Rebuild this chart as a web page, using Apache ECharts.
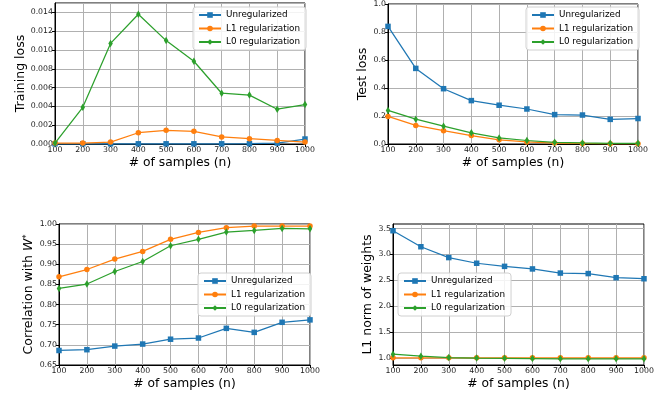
<!DOCTYPE html>
<html>
<head>
<meta charset="utf-8">
<script src="https://cdn.jsdelivr.net/npm/echarts@6/dist/echarts.min.js"></script>
<style>html,body{margin:0;padding:0;background:#fff}#c{width:666px;height:396px}</style>
</head>
<body>
<div id="c"></div>
<script>
const samples = [100, 200, 300, 400, 500, 600, 700, 800, 900, 1000];
const seriesNames = ['Unregularized', 'L1 regularization', 'L0 regularization'];

const trainUnreg = [0.00002, 0.00002, 0.00002, 0.00002, 0.00002, 0.00002, 0.00002, 0.00003, 0.0001, 0.00053];
const trainL1 = [0.0001, 0.0001, 0.0002, 0.0012, 0.00145, 0.00135, 0.00075, 0.00057, 0.00038, 0.0002];
const trainL0 = [0.0001, 0.0039, 0.0107, 0.0138, 0.0110, 0.0088, 0.0054, 0.0052, 0.0037, 0.0042];

const testUnreg = [0.84, 0.54, 0.395, 0.31, 0.277, 0.25, 0.21, 0.207, 0.176, 0.182];
const testL1 = [0.197, 0.133, 0.095, 0.06, 0.03, 0.015, 0.007, 0.004, 0.002, 0.002];
const testL0 = [0.24, 0.177, 0.127, 0.08, 0.043, 0.025, 0.012, 0.008, 0.005, 0.005];

const corrUnreg = [0.686, 0.688, 0.697, 0.702, 0.714, 0.717, 0.741, 0.731, 0.756, 0.762];
const corrL1 = [0.869, 0.887, 0.913, 0.932, 0.962, 0.979, 0.991, 0.995, 0.995, 0.995];
const corrL0 = [0.840, 0.851, 0.882, 0.907, 0.946, 0.962, 0.980, 0.984, 0.989, 0.988];

const normUnreg = [3.46, 3.15, 2.94, 2.83, 2.77, 2.72, 2.64, 2.63, 2.55, 2.53];
const normL1 = [1.0, 1.0, 1.0, 1.0, 1.0, 1.0, 1.0, 1.0, 1.0, 1.0];
const normL0 = [1.07, 1.03, 1.005, 0.995, 0.99, 0.985, 0.98, 0.98, 0.98, 0.98];

const normTicks = [1.0, 1.5, 2.0, 2.5, 3.0, 3.5];

const colors = ['#1f77b4', '#ff7f0e', '#2ca02c'];
const symbols = ['rect', 'circle', 'path://M0,-1L0.55,0L0,1L-0.55,0Z'];
const symbolSizes = [5.5, 5.5, [4.5, 7.5]];
const FONT = 'DejaVu Sans';

const grids = [
  {left: 55, top: 3, width: 250, height: 141},
  {left: 388, top: 3, width: 250, height: 141},
  {left: 59, top: 224, width: 251, height: 141},
  {left: 393, top: 224, width: 251, height: 141}
];

const yConf = [
  {name: 'Training loss', min: 0, max: 0.015, interval: 0.002, dec: 3, gap: 27},
  {name: 'Test loss', min: 0, max: 1.0, interval: 0.2, dec: 1, gap: 15},
  {name: 'Correlation with {w|W}{s|*}', min: 0.65, max: 1.0, interval: 0.05, dec: 2, gap: 22},
  {name: 'L1 norm of weights', min: 0.86, max: 3.59, interval: null, dec: 1, gap: 11, custom: normTicks}
];

const panelData = [
  [trainUnreg, trainL1, trainL0],
  [testUnreg, testL1, testL0],
  [corrUnreg, corrL1, corrL0],
  [normUnreg, normL1, normL0]
];

const legendPos = [
  {left: 193, top: 7},
  {left: 526, top: 7},
  {left: 198, top: 273},
  {left: 398, top: 273}
];

const option = {
  animation: false,
  backgroundColor: '#fff',
  textStyle: {fontFamily: FONT},
  grid: grids.map(g => Object.assign({show: true, borderColor: '#000', borderWidth: 1, backgroundColor: 'transparent'}, g)),
  xAxis: grids.map((g, i) => ({
    type: 'value', gridIndex: i, min: 100, max: 1000, interval: 100,
    name: '# of samples (n)', nameLocation: 'middle', nameGap: 13,
    nameTextStyle: {fontSize: 12.3, color: '#000', fontFamily: FONT},
    axisLine: {show: true, onZero: false, lineStyle: {color: '#000', width: 1}},
    axisTick: {show: true, length: 3, lineStyle: {color: '#000'}},
    axisLabel: {fontSize: 7.8, color: '#222', margin: 2, fontFamily: FONT, formatter: v => String(v)},
    splitLine: {show: true, lineStyle: {color: '#b0b0b0', width: 1}}
  })),
  yAxis: yConf.map((c, i) => {
    const ax = {
      type: 'value', gridIndex: i, min: c.min, max: c.max,
      name: c.name, nameLocation: 'middle', nameGap: c.gap, nameRotate: 90,
      nameTextStyle: {fontSize: 12.5, color: '#000', fontFamily: FONT,
        rich: {
          w: {fontSize: 12.5, fontStyle: 'italic', color: '#000', fontFamily: FONT},
          s: {fontSize: 8, color: '#000', fontFamily: FONT, verticalAlign: 'top', padding: [0, 0, 5, 0]}
        }},
      axisLine: {show: true, onZero: false, lineStyle: {color: '#000', width: 1}},
      axisTick: {show: true, length: 3, lineStyle: {color: '#000'}},
      axisLabel: {fontSize: 7.8, color: '#222', margin: 2, fontFamily: FONT,
        showMinLabel: true, showMaxLabel: i === 1 || i === 2,
        formatter: v => v.toFixed(c.dec)},
      splitLine: {show: true, lineStyle: {color: '#b0b0b0', width: 1}}
    };
    if (c.interval) ax.interval = c.interval;
    if (c.custom) {
      ax.axisLabel.customValues = c.custom;
      ax.axisLabel.showMinLabel = true;
      ax.axisLabel.showMaxLabel = true;
      ax.axisTick.customValues = c.custom;
    }
    return ax;
  }),
  legend: legendPos.map(p => ({
    left: p.left, top: p.top, orient: 'vertical',
    data: seriesNames,
    backgroundColor: 'rgba(255,255,255,0.85)', borderColor: '#d0d0d0', borderWidth: 1, borderRadius: 3,
    padding: [3, 6, 3, 5], itemGap: 3.5, itemWidth: 22, itemHeight: 7,
    textStyle: {fontSize: 8.8, color: '#000', fontFamily: FONT, lineHeight: 10},
    selectedMode: false
  })),
  series: []
};

panelData.forEach((arrs, gi) => {
  arrs.forEach((vals, si) => {
    option.series.push({
      type: 'line', name: seriesNames[si], xAxisIndex: gi, yAxisIndex: gi,
      data: samples.map((x, k) => [x, vals[k]]),
      symbol: symbols[si], symbolSize: symbolSizes[si], showSymbol: true,
      lineStyle: {color: colors[si], width: 1.25},
      itemStyle: {color: colors[si]},
      z: 2 + si, clip: false
    });
  });
});

const chart = echarts.init(document.getElementById('c'), null, {renderer: 'canvas'});
chart.setOption(option);
</script>
</body>
</html>
